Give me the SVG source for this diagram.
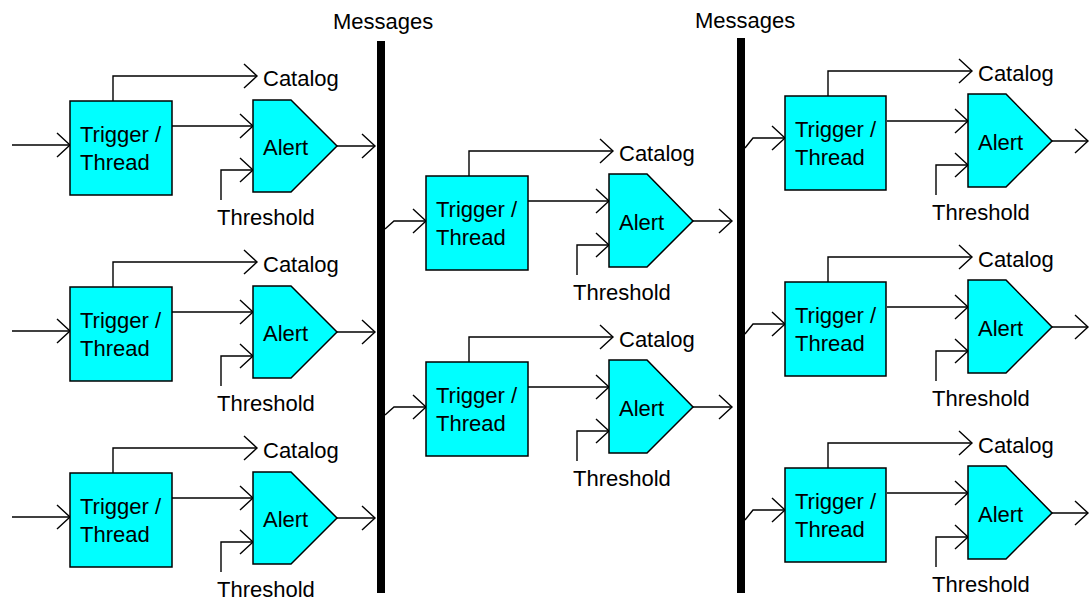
<svg xmlns="http://www.w3.org/2000/svg" width="1090" height="600" viewBox="0 0 1090 600">
  <style>
    .lbl { font-family: "Liberation Sans", Arial, sans-serif; font-size: 22px; fill: #000; }
    .box { fill: #00FFFF; stroke: #000; stroke-width: 1.5; }
    .ln { fill: none; stroke: #000; stroke-width: 1.4; marker-end: url(#arr); }
    .bar { fill: #000; }
  </style>
  <defs>
    <marker id="arr" markerUnits="userSpaceOnUse" markerWidth="16" markerHeight="28" refX="14" refY="13" orient="auto" overflow="visible">
      <path d="M1,1 L14,13 L1,25" fill="none" stroke="#000" stroke-width="1.4"/>
    </marker>
    <g id="block-lines">
      <path class="ln" d="M43,0 V-25 H187"/>
      <path class="ln" d="M102,25 H183"/>
      <path class="ln" d="M151,99 V69 H183"/>
    </g>
  </defs>

  <rect color="white" width="1090" height="600" fill="#fff"/>

  <g id="bus-left">
    <rect class="bar" x="377" y="41" width="8" height="552"/>
    <text class="lbl" x="333" y="29">Messages</text>
  </g>
  <g id="bus-right">
    <rect class="bar" x="737" y="38" width="8" height="555"/>
    <text class="lbl" x="695" y="28">Messages</text>
  </g>

  <g id="connectors">
    <!-- left column -->
    <g transform="translate(70,101)"><use href="#block-lines"/><path class="ln" d="M267,45 H305"/><path class="ln" d="M-58,44 H0"/></g>
    <g transform="translate(70,287)"><use href="#block-lines"/><path class="ln" d="M267,45 H305"/><path class="ln" d="M-58,44 H0"/></g>
    <g transform="translate(70,473)"><use href="#block-lines"/><path class="ln" d="M267,45 H305"/><path class="ln" d="M-58,44 H0"/></g>
    <!-- middle column -->
    <g transform="translate(426,176)"><use href="#block-lines"/><path class="ln" d="M267,45 H306"/><path class="ln" d="M-41,53 L-32,45 H0"/></g>
    <g transform="translate(426,362)"><use href="#block-lines"/><path class="ln" d="M267,45 H306"/><path class="ln" d="M-41,53 L-32,45 H0"/></g>
    <!-- right column -->
    <g transform="translate(785,96)"><use href="#block-lines"/><path class="ln" d="M267,45 H303"/><path class="ln" d="M-40,52 L-32,42 H0"/></g>
    <g transform="translate(785,282)"><use href="#block-lines"/><path class="ln" d="M267,45 H303"/><path class="ln" d="M-40,52 L-32,42 H0"/></g>
    <g transform="translate(785,468)"><use href="#block-lines"/><path class="ln" d="M267,45 H303"/><path class="ln" d="M-40,52 L-32,42 H0"/></g>
  </g>

  <!-- Left column -->
  <g id="trigger-L1" transform="translate(70,101)"><rect class="box" x="0" y="0" width="102" height="94"/><text class="lbl" x="10" y="41">Trigger /</text><text class="lbl" x="10" y="69">Thread</text></g>
  <g id="alert-L1" transform="translate(70,101)"><polygon class="box" points="183,-1 221,-1 267,45 221,91 183,91"/><text class="lbl" x="193" y="54">Alert</text><text class="lbl" x="193" y="-15">Catalog</text><text class="lbl" x="147" y="124">Threshold</text></g>

  <g id="trigger-L2" transform="translate(70,287)"><rect class="box" x="0" y="0" width="102" height="94"/><text class="lbl" x="10" y="41">Trigger /</text><text class="lbl" x="10" y="69">Thread</text></g>
  <g id="alert-L2" transform="translate(70,287)"><polygon class="box" points="183,-1 221,-1 267,45 221,91 183,91"/><text class="lbl" x="193" y="54">Alert</text><text class="lbl" x="193" y="-15">Catalog</text><text class="lbl" x="147" y="124">Threshold</text></g>

  <g id="trigger-L3" transform="translate(70,473)"><rect class="box" x="0" y="0" width="102" height="94"/><text class="lbl" x="10" y="41">Trigger /</text><text class="lbl" x="10" y="69">Thread</text></g>
  <g id="alert-L3" transform="translate(70,473)"><polygon class="box" points="183,-1 221,-1 267,45 221,91 183,91"/><text class="lbl" x="193" y="54">Alert</text><text class="lbl" x="193" y="-15">Catalog</text><text class="lbl" x="147" y="124">Threshold</text></g>

  <!-- Middle column -->
  <g id="trigger-M1" transform="translate(426,176)"><rect class="box" x="0" y="0" width="102" height="94"/><text class="lbl" x="10" y="41">Trigger /</text><text class="lbl" x="10" y="69">Thread</text></g>
  <g id="alert-M1" transform="translate(426,176)"><polygon class="box" points="183,-2 221,-2 267,45 221,91 183,91"/><text class="lbl" x="193" y="54">Alert</text><text class="lbl" x="193" y="-15">Catalog</text><text class="lbl" x="147" y="124">Threshold</text></g>

  <g id="trigger-M2" transform="translate(426,362)"><rect class="box" x="0" y="0" width="102" height="94"/><text class="lbl" x="10" y="41">Trigger /</text><text class="lbl" x="10" y="69">Thread</text></g>
  <g id="alert-M2" transform="translate(426,362)"><polygon class="box" points="183,-2 221,-2 267,45 221,91 183,91"/><text class="lbl" x="193" y="54">Alert</text><text class="lbl" x="193" y="-15">Catalog</text><text class="lbl" x="147" y="124">Threshold</text></g>

  <!-- Right column -->
  <g id="trigger-R1" transform="translate(785,96)"><rect class="box" x="0" y="0" width="101" height="94"/><text class="lbl" x="10" y="41">Trigger /</text><text class="lbl" x="10" y="69">Thread</text></g>
  <g id="alert-R1" transform="translate(785,96)"><polygon class="box" points="183,-2 221,-2 267,45 221,91 183,91"/><text class="lbl" x="193" y="54">Alert</text><text class="lbl" x="193" y="-15">Catalog</text><text class="lbl" x="147" y="124">Threshold</text></g>

  <g id="trigger-R2" transform="translate(785,282)"><rect class="box" x="0" y="0" width="101" height="94"/><text class="lbl" x="10" y="41">Trigger /</text><text class="lbl" x="10" y="69">Thread</text></g>
  <g id="alert-R2" transform="translate(785,282)"><polygon class="box" points="183,-2 221,-2 267,45 221,91 183,91"/><text class="lbl" x="193" y="54">Alert</text><text class="lbl" x="193" y="-15">Catalog</text><text class="lbl" x="147" y="124">Threshold</text></g>

  <g id="trigger-R3" transform="translate(785,468)"><rect class="box" x="0" y="0" width="101" height="94"/><text class="lbl" x="10" y="41">Trigger /</text><text class="lbl" x="10" y="69">Thread</text></g>
  <g id="alert-R3" transform="translate(785,468)"><polygon class="box" points="183,-2 221,-2 267,45 221,91 183,91"/><text class="lbl" x="193" y="54">Alert</text><text class="lbl" x="193" y="-15">Catalog</text><text class="lbl" x="147" y="124">Threshold</text></g>
</svg>
